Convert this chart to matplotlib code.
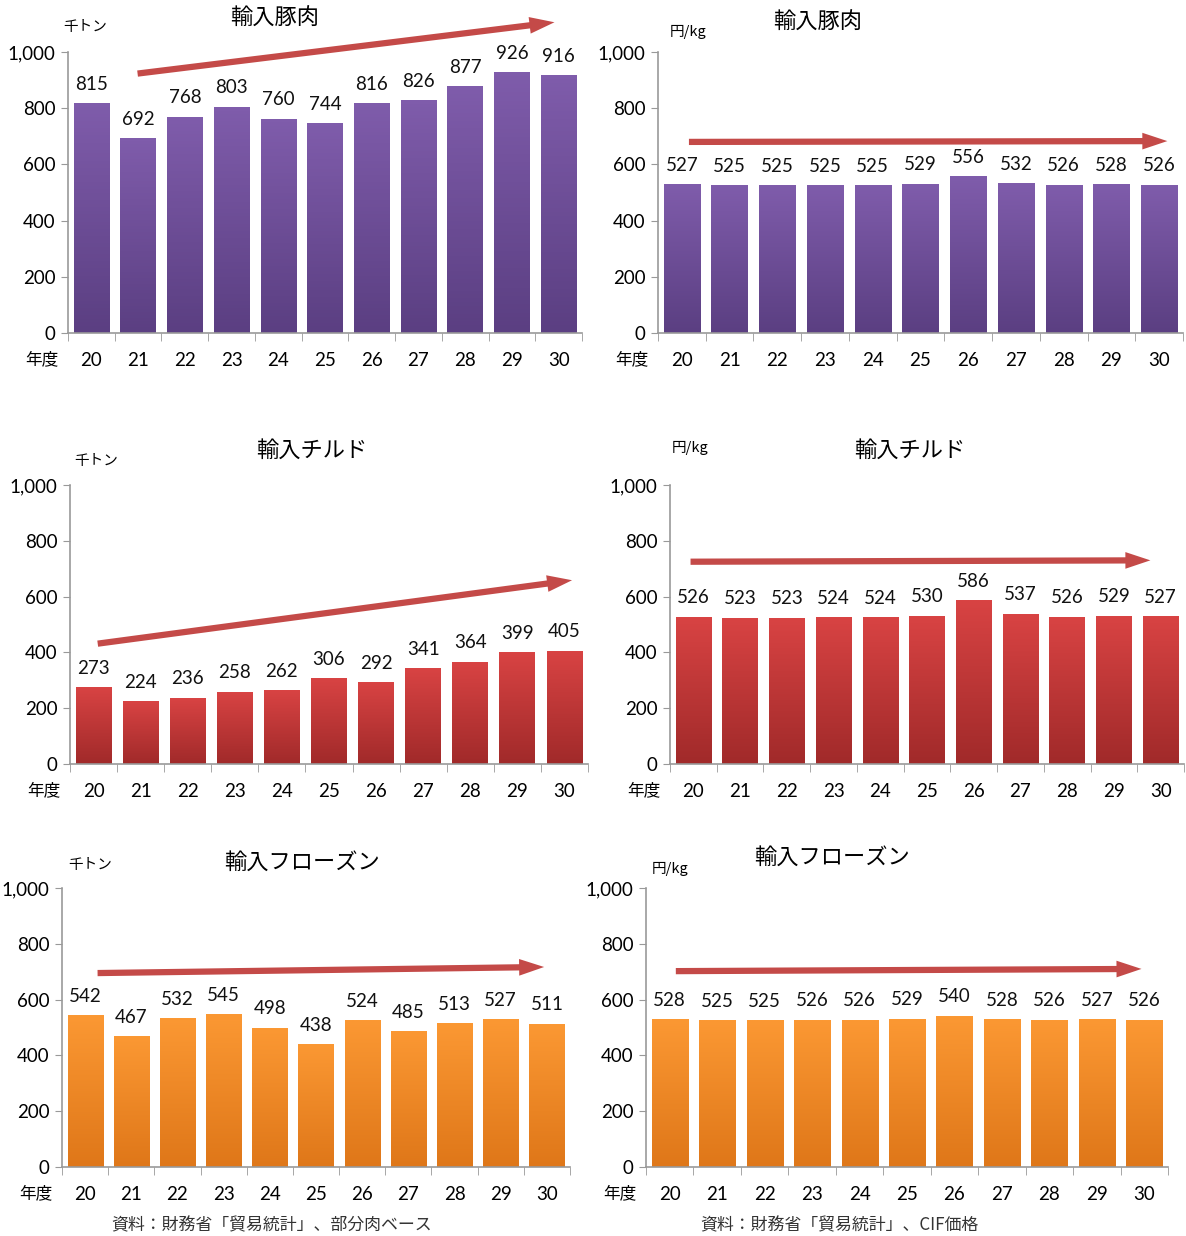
import numpy as np
import matplotlib
matplotlib.use("Agg")
import matplotlib.pyplot as plt
from matplotlib.colors import LinearSegmentedColormap

plt.rcParams['font.family'] = ['Lato', 'Noto Sans CJK JP', 'DejaVu Sans']

# data
years = ['20', '21', '22', '23', '24', '25', '26', '27', '28', '29', '30']
pork_vol = [815, 692, 768, 803, 760, 744, 816, 826, 877, 926, 916]
pork_price = [527, 525, 525, 525, 525, 529, 556, 532, 526, 528, 526]
chilled_vol = [273, 224, 236, 258, 262, 306, 292, 341, 364, 399, 405]
chilled_price = [526, 523, 523, 524, 524, 530, 586, 537, 526, 529, 527]
frozen_vol = [542, 467, 532, 545, 498, 438, 524, 485, 513, 527, 511]
frozen_price = [528, 525, 525, 526, 526, 529, 540, 528, 526, 527, 526]

W, H = 1186, 1236
fig = plt.figure(figsize=(W / 100, H / 100), dpi=100)

purple = ('#7f5cab', '#5b3f82')
red = ('#d84343', '#a12a2a')
orange = ('#fb9833', '#df7719')
arrow_col = '#c44a48'


def panel(px, vals, colors, title, unit, title_xy, unit_xy, arrow):
    x0, x1, yt, yb = px
    ax = fig.add_axes([x0 / W, 1 - yb / H, (x1 - x0) / W, (yb - yt) / H])
    n = len(vals)
    cmap = LinearSegmentedColormap.from_list('g', [colors[1], colors[0]])
    grad = np.linspace(0, 1, 64).reshape(-1, 1)
    bw = 0.76
    for i, v in enumerate(vals):
        ax.imshow(grad, extent=[i - bw / 2, i + bw / 2, 0, v], origin='lower',
                  cmap=cmap, aspect='auto', zorder=2)
        ax.annotate(str(v), (i, v), xytext=(0, 14), textcoords='offset points',
                    ha='center', va='center', fontsize=13.5, color='#111111')
    ax.set_xlim(-0.5, n - 0.5)
    ax.set_ylim(0, 1000)
    ax.set_yticks(range(0, 1001, 200))
    ax.set_yticklabels([f'{t:,}' for t in range(0, 1001, 200)], fontsize=13.5)
    ax.set_xticks(np.arange(n))
    ax.set_xticklabels(years, fontsize=13.5)
    ax.set_xticks(np.arange(-0.5, n, 1), minor=True)
    ax.tick_params(axis='x', which='major', length=0, pad=14)
    ax.tick_params(axis='x', which='minor', length=6, color='#999999')
    ax.tick_params(axis='y', length=5, color='#999999', pad=4)
    for s in ['top', 'right']:
        ax.spines[s].set_visible(False)
    for s in ['left', 'bottom']:
        ax.spines[s].set_color('#999999')
        ax.spines[s].set_linewidth(1.2)
    ax.annotate('年度', (0, 0), xycoords='axes fraction', xytext=(-7, -19),
                textcoords='offset points', ha='right', va='center', fontsize=12,
                family=['Noto Sans CJK JP'])
    (ax0, ay0), (ax1, ay1) = arrow
    ax.annotate('', xy=(ax1, ay1), xytext=(ax0, ay0),
                arrowprops=dict(arrowstyle='simple,head_length=1.8,head_width=1.2,tail_width=0.45',
                                color=arrow_col, lw=0, mutation_scale=10),
                annotation_clip=False, zorder=4)
    fig.text(title_xy[0] / W, 1 - title_xy[1] / H, title, ha='center', va='center',
             fontsize=16, family=['Noto Sans CJK JP'])
    fig.text(unit_xy[0] / W, 1 - unit_xy[1] / H, unit, ha='center', va='center',
             fontsize=10.5, family=['Noto Sans CJK JP'])
    return ax


panel((68, 582, 52, 333), pork_vol, purple, '輸入豚肉', '千トン',
      (275, 18), (85, 27), ((0.93, 922), (9.97, 1107)))
panel((658, 1183, 52, 333), pork_price, purple, '輸入豚肉', '円/kg',
      (818, 22), (688, 32), ((0.09, 680), (10.23, 683)))
panel((70, 588, 485, 764), chilled_vol, red, '輸入チルド', '千トン',
      (312, 450), (96, 461), ((0.03, 430), (10.22, 660)))
panel((670, 1184, 485, 764), chilled_price, red, '輸入チルド', '円/kg',
      (910, 450), (690, 448), ((-0.12, 725), (9.84, 730)))
panel((62, 570, 888, 1167), frozen_vol, orange, '輸入フローズン', '千トン',
      (302, 862), (90, 865), ((0.21, 695), (10.0, 717)))
panel((646, 1168, 888, 1167), frozen_price, orange, '輸入フローズン', '円/kg',
      (832, 857), (670, 869), ((0.07, 702), (10.0, 710)))

fig.text(272 / W, 1 - 1225 / H, '資料：財務省「貿易統計」、部分肉ベース', ha='center', va='center',
         fontsize=12.2, color='#333333', family=['Noto Sans CJK JP'])
fig.text(839 / W, 1 - 1225 / H, '資料：財務省「貿易統計」、CIF価格', ha='center', va='center',
         fontsize=12.2, color='#333333', family=['Noto Sans CJK JP'])

fig.savefig('out.png', dpi=100)
